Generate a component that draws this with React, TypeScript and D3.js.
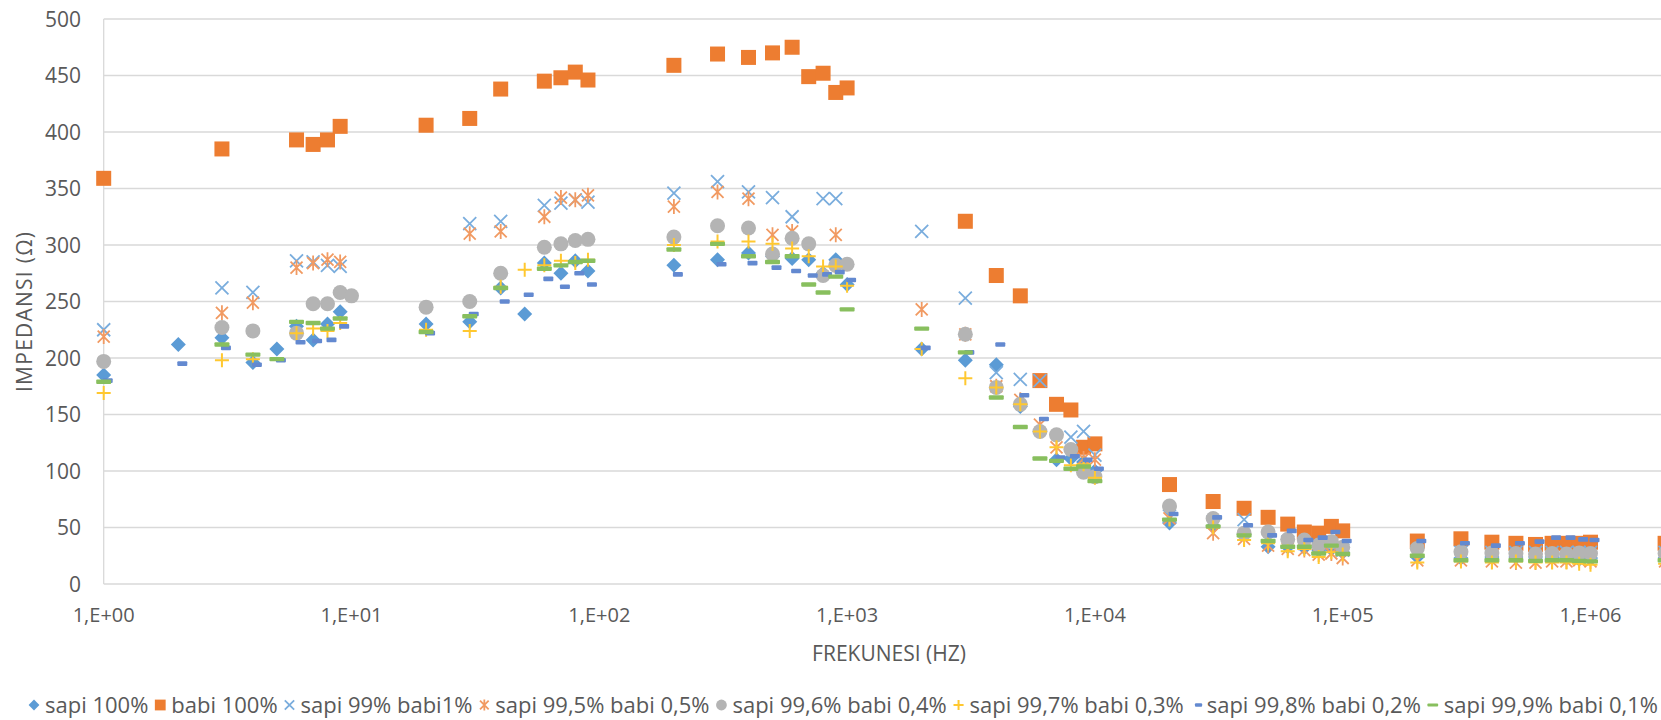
import React from "react";
import * as d3 from "d3";

const WIDTH = 1661;
const HEIGHT = 720;
const PLOT_LEFT = 103.7;
const PLOT_TOP = 19;
const PLOT_BOTTOM = 584;
const DECADE = 247.8;
const FONT = "'Open Sans', sans-serif";
const TEXT_COLOR = "#595959";

// frequency (Hz)
const freq = [
  1, 2, 3, 4, 5, 6, 7, 8, 9, 10,
  20, 30, 40, 50, 60, 70, 80, 90,
  200, 300, 400, 500, 600, 700, 800, 900, 1000,
  2000, 3000, 4000, 5000, 6000, 7000, 8000, 9000, 10000,
  20000, 30000, 40000, 50000, 60000, 70000, 80000, 90000, 100000,
  200000, 300000, 400000, 500000, 600000, 700000, 800000, 900000, 1000000,
  2000000,
];

type V = number | null;
const _ = null;

const sapi100: V[] = [
  185, 212, 218, 196, 208, 228, 216, 230, 241, _,
  230, 232, 262, 239, 284, 275, 286, 277,
  282, 287, 293, 290, 288, 287, 275, 287, 265,
  208, 198, 194, 157, 135, 110, 111, 108, 100,
  54, 51, 44, 33, 33, 32, 30, 31, 28,
  24, 23, 24, 24, 24, 24, 23, 22, 23,
  23,
];
const babi100: V[] = [
  359, _, 385, _, _, 393, 389, 393, 405, _,
  406, 412, 438, _, 445, 448, 453, 446,
  459, 469, 466, 470, 475, 449, 452, 435, 439,
  _, 321, 273, 255, 180, 159, 154, 121, 124,
  88, 73, 67, 59, 53, 46, 45, 51, 47,
  38, 40, 37, 36, 35, 36, 36, 36, 37,
  36,
];
const sapi99: V[] = [
  225, _, 262, 258, _, 286, 285, 282, 281, _,
  _, 319, 321, _, 335, 337, 340, 338,
  346, 356, 347, 342, 325, _, 341, 341, _,
  312, 253, 187, 181, 180, _, 130, 135, 114,
  60, 55, 57, 42, 37, 36, 33, 35, 30,
  29, 28, 28, 28, 28, 28, 28, 28, 28,
  28,
];
const sapi995: V[] = [
  219, _, 240, 249, _, 280, 284, 287, 285, _,
  _, 310, 312, _, 325, 342, 340, 344,
  334, 347, 341, 309, 312, _, _, 309, _,
  243, 221, 175, 163, 141, 121, _, 111, 110,
  58, 45, 40, 34, 31, 30, 26, 27, 23,
  21, 21, 20, 19, 19, 20, 20, 21, 20,
  20,
];
const sapi996: V[] = [
  197, _, 227, 224, _, 222, 248, 248, 258, 255,
  245, 250, 275, _, 298, 301, 304, 305,
  307, 317, 315, 292, 306, 301, 273, 282, 283,
  _, 221, 174, 159, 135, 132, 119, 99, 95,
  69, 58, 45, 46, 39.5, 39, 34.5, 37.5, 32.5,
  31.5, 28.5, 27.5, 27, 26.5, 27, 26.5, 27.5, 27,
  27,
];
const sapi997: V[] = [
  169, _, 198, 199, _, 222, 226, 224, 231, _,
  225, 224, 263, 278, 282, 286, 284, 287,
  300, 303, 303, 301, 297, 290, 281, 281, 264,
  208, 182, 174, 159, 135, 121, 105, 106, 94,
  57, 50, 39, 36, 29, 31, 24, 28, 26,
  19, 20, 19, 20, 19, 19, 19, 18, 17,
  18,
];
const sapi998: V[] = [
  180, 195, 209, 194, 198, 214, 215, 216, 228, _,
  222, 239, 250, 256, 270, 263, 275, 265,
  274, 283, 284, 280, 277, 273, 274, 276, 269,
  209, 205, 212, 167, 146, 112, 113, 110, 102,
  62, 59, 52, 43, 47, 39, 41, 46, 38,
  38, 36, 34, 36, 37.5, 41, 41, 39.5, 39,
  38,
];
const sapi999: V[] = [
  179, _, 212, 203, 199, 232, 231, 226, 235, _,
  223, 237, 262, _, 279, 282, 285, 286,
  296, 301, 290, 285, 290, 265, 258, 272, 243,
  226, 205, 165, 139, 111, 109, 102, 104, 91,
  57, 51, 43, 38, 33, 33, 27, 34, 26.5,
  25, 21, 21, 21, 20.5, 21, 21, 20.5, 20,
  21,
];

const yTicks = [0, 50, 100, 150, 200, 250, 300, 350, 400, 450, 500];
const xTicks = [1, 10, 100, 1000, 10000, 100000, 1000000];
const xTickLabels = ["1,E+00", "1,E+01", "1,E+02", "1,E+03", "1,E+04", "1,E+05", "1,E+06"];

type Marker = "diamond" | "square" | "x" | "asterisk" | "circle" | "plus" | "dash" | "longdash";

const series: { name: string; values: V[]; color: string; marker: Marker }[] = [
  { name: "sapi 100%", values: sapi100, color: "#5B9BD5", marker: "diamond" },
  { name: "babi 100%", values: babi100, color: "#ED7D31", marker: "square" },
  { name: "sapi 99% babi1%", values: sapi99, color: "#7AADDD", marker: "x" },
  { name: "sapi 99,5% babi 0,5%", values: sapi995, color: "#F19A62", marker: "asterisk" },
  { name: "sapi 99,6% babi 0,4%", values: sapi996, color: "#B4B4B4", marker: "circle" },
  { name: "sapi 99,7% babi 0,3%", values: sapi997, color: "#FFC830", marker: "plus" },
  { name: "sapi 99,8% babi 0,2%", values: sapi998, color: "#6389D0", marker: "dash" },
  { name: "sapi 99,9% babi 0,1%", values: sapi999, color: "#88BF5E", marker: "longdash" },
];

const LEGEND_Y = 705;
const LEGEND_LEFT = 34;
const LEGEND_RIGHT = 1658;
const LEGEND_FONT = 22;
const LEGEND_TEXT_DX = 11;

function measure(text: string, size: number) {
  const ctx = document.createElement("canvas").getContext("2d");
  if (!ctx) return text.length * size * 0.5;
  ctx.font = `${size}px 'Open Sans'`;
  return ctx.measureText(text).width;
}

function MarkerShape({ type, color, s = 1 }: { type: Marker; color: string; s?: number }) {
  switch (type) {
    case "diamond":
      return <path d={`M0,${-7.5 * s}L${7.5 * s},0L0,${7.5 * s}L${-7.5 * s},0Z`} fill={color} />;
    case "square":
      return <rect x={-7.5 * s} y={-7.5 * s} width={15 * s} height={15 * s} fill={color} />;
    case "circle":
      return <circle r={7.5 * s} fill={color} />;
    case "x":
      return (
        <path
          d={`M${-6.5 * s},${-6.5 * s}L${6.5 * s},${6.5 * s}M${-6.5 * s},${6.5 * s}L${6.5 * s},${-6.5 * s}`}
          stroke={color}
          strokeWidth={1.8}
          fill="none"
        />
      );
    case "asterisk":
      return (
        <path
          d={`M${-6 * s},${-6 * s}L${6 * s},${6 * s}M${-6 * s},${6 * s}L${6 * s},${-6 * s}M0,${-7.5 * s}L0,${7.5 * s}`}
          stroke={color}
          strokeWidth={1.8}
          fill="none"
        />
      );
    case "plus":
      return (
        <path
          d={`M${-7 * s},0L${7 * s},0M0,${-7 * s}L0,${7 * s}`}
          stroke={color}
          strokeWidth={2}
          fill="none"
        />
      );
    case "dash":
      return <rect x={-1 * s} y={-2.3 * s} width={10 * s} height={4.6 * s} rx={1} fill={color} />;
    case "longdash":
      return <rect x={-7.5 * s} y={-2.2 * s} width={15 * s} height={4.4 * s} rx={1} fill={color} />;
  }
}

export default function App() {
  const x = d3
    .scaleLog()
    .domain([1, 1e7])
    .range([PLOT_LEFT, PLOT_LEFT + 7 * DECADE]);
  const y = d3.scaleLinear().domain([0, 500]).range([PLOT_BOTTOM, PLOT_TOP]);

  // legend layout: spread items between left and right edges
  const widths = series.map((s) => measure(s.name, LEGEND_FONT));
  const used = d3.sum(widths) + series.length * LEGEND_TEXT_DX;
  const gap = (LEGEND_RIGHT - LEGEND_LEFT - used) / (series.length - 1);
  const legendX: number[] = [];
  let cx = LEGEND_LEFT;
  widths.forEach((w) => {
    legendX.push(cx);
    cx += LEGEND_TEXT_DX + w + gap;
  });

  return (
    <svg
      width={WIDTH}
      height={HEIGHT}
      style={{ position: "absolute", left: 0, top: 0, background: "#fff" }}
      fontFamily={FONT}
    >
      <rect width={WIDTH} height={HEIGHT} fill="#fff" />
      {/* gridlines */}
      {yTicks.map((t) => (
        <line
          key={t}
          x1={PLOT_LEFT}
          x2={WIDTH}
          y1={y(t)}
          y2={y(t)}
          stroke="#d9d9d9"
          strokeWidth={1.3}
        />
      ))}
      <line x1={PLOT_LEFT} x2={PLOT_LEFT} y1={PLOT_TOP} y2={PLOT_BOTTOM} stroke="#d9d9d9" strokeWidth={1.3} />

      {/* y tick labels */}
      {yTicks.map((t) => (
        <text key={t} x={81} y={y(t)} dy="0.36em" textAnchor="end" fontSize={21} fill={TEXT_COLOR}>
          {t}
        </text>
      ))}

      {/* x tick labels */}
      {xTicks.map((t, i) => (
        <text key={t} x={x(t)} y={622} textAnchor="middle" fontSize={20} fill={TEXT_COLOR}>
          {xTickLabels[i]}
        </text>
      ))}

      {/* axis titles */}
      <text
        transform={`translate(24, 312) rotate(-90)`}
        textAnchor="middle"
        dy="0.36em"
        fontSize={21}
        textLength={160}
        lengthAdjust="spacing"
        fill={TEXT_COLOR}
      >
        IMPEDANSI (Ω)
      </text>
      <text x={889} y={661} textAnchor="middle" fontSize={21} fill={TEXT_COLOR}>
        FREKUNESI (HZ)
      </text>

      {/* points */}
      {series.map((s) => (
        <g key={s.name}>
          {s.values.map((v, i) =>
            v === null ? null : (
              <g key={i} transform={`translate(${x(freq[i])},${y(v)})`}>
                <MarkerShape type={s.marker} color={s.color} />
              </g>
            )
          )}
        </g>
      ))}

      {/* legend */}
      {series.map((s, i) => (
        <g key={s.name} transform={`translate(${legendX[i]},${LEGEND_Y})`}>
          <MarkerShape type={s.marker} color={s.color} s={0.72} />
          <text x={LEGEND_TEXT_DX} dy="0.36em" fontSize={LEGEND_FONT} fill={TEXT_COLOR}>
            {s.name}
          </text>
        </g>
      ))}
    </svg>
  );
}
